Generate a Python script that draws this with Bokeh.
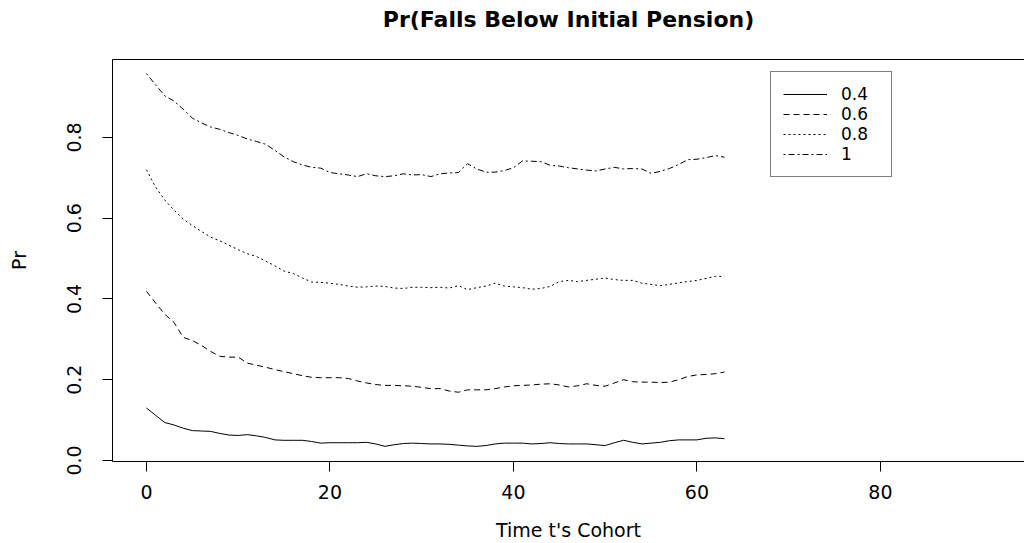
from bokeh.plotting import figure
from bokeh.models import Range1d, FixedTicker, PrintfTickFormatter, LinearAxis, Legend, LegendItem
from bokeh.embed import file_html
from bokeh.resources import INLINE

# Cohort index (time t)
cohort = list(range(64))

# Probability that the pension falls below its initial level, by multiplier
pr_04 = [0.130, 0.112, 0.094, 0.088, 0.080, 0.074, 0.073, 0.072, 0.067, 0.063,
         0.062, 0.064, 0.061, 0.057, 0.051, 0.050, 0.050, 0.050, 0.047, 0.043,
         0.044, 0.044, 0.044, 0.044, 0.045, 0.041, 0.035, 0.039, 0.042, 0.043,
         0.042, 0.041, 0.041, 0.040, 0.038, 0.036, 0.035, 0.037, 0.041, 0.043,
         0.043, 0.043, 0.041, 0.042, 0.044, 0.042, 0.041, 0.041, 0.041, 0.039,
         0.037, 0.044, 0.050, 0.045, 0.041, 0.043, 0.045, 0.049, 0.051, 0.051,
         0.051, 0.055, 0.056, 0.054]
pr_06 = [0.419, 0.390, 0.362, 0.342, 0.305, 0.297, 0.285, 0.270, 0.258, 0.256,
         0.256, 0.241, 0.236, 0.231, 0.225, 0.220, 0.215, 0.210, 0.206, 0.205,
         0.205, 0.205, 0.203, 0.197, 0.192, 0.188, 0.186, 0.186, 0.185, 0.184,
         0.181, 0.178, 0.178, 0.172, 0.169, 0.175, 0.175, 0.175, 0.178, 0.182,
         0.185, 0.186, 0.187, 0.189, 0.190, 0.187, 0.182, 0.185, 0.190, 0.186,
         0.184, 0.192, 0.200, 0.195, 0.194, 0.194, 0.193, 0.194, 0.200, 0.208,
         0.212, 0.213, 0.215, 0.219]
pr_08 = [0.720, 0.677, 0.645, 0.620, 0.598, 0.582, 0.567, 0.553, 0.544, 0.533,
         0.522, 0.512, 0.505, 0.494, 0.482, 0.469, 0.463, 0.452, 0.442, 0.441,
         0.439, 0.436, 0.432, 0.429, 0.430, 0.432, 0.431, 0.427, 0.426, 0.429,
         0.429, 0.428, 0.429, 0.427, 0.433, 0.423, 0.428, 0.432, 0.439, 0.432,
         0.430, 0.428, 0.424, 0.426, 0.431, 0.443, 0.446, 0.443, 0.446, 0.449,
         0.452, 0.448, 0.446, 0.446, 0.439, 0.436, 0.433, 0.436, 0.440, 0.443,
         0.446, 0.451, 0.456, 0.456]
pr_10 = [0.958, 0.930, 0.903, 0.890, 0.870, 0.848, 0.836, 0.826, 0.820, 0.812,
         0.805, 0.796, 0.790, 0.783, 0.768, 0.752, 0.740, 0.732, 0.726, 0.724,
         0.713, 0.710, 0.707, 0.703, 0.710, 0.705, 0.703, 0.705, 0.710, 0.707,
         0.708, 0.703, 0.710, 0.712, 0.713, 0.735, 0.722, 0.714, 0.714, 0.718,
         0.725, 0.742, 0.741, 0.740, 0.731, 0.729, 0.725, 0.722, 0.719, 0.717,
         0.722, 0.726, 0.722, 0.723, 0.722, 0.711, 0.716, 0.723, 0.733, 0.745,
         0.746, 0.750, 0.755, 0.751]

series_labels = ["0.4", "0.6", "0.8", "1"]
x_ticks = [0, 20, 40, 60, 80]
y_ticks = [0.0, 0.2, 0.4, 0.6, 0.8]

FONT = "DejaVu Sans"

p = figure(width=1024, height=543, output_backend="svg", toolbar_location=None,
           x_range=Range1d(-3.7, 95.7), y_range=Range1d(-0.0025, 0.993),
           min_border_left=112, min_border_right=0, min_border_top=59,
           min_border_bottom=82)
p.background_fill_color = "white"
p.border_fill_color = "white"
p.outline_line_color = None
p.xgrid.visible = False
p.ygrid.visible = False

xax = p.below[0]
yax = p.left[0]

p.title.text = "Pr(Falls Below Initial Pension)"
p.title.text_font = FONT
p.title.text_font_style = "bold"
p.title.text_font_size = "22px"
p.title.align = "center"
p.title.text_color = "black"
p.title.standoff = 9

# top border of the box; its blank label band leaves room under the title
top = LinearAxis(major_tick_line_color=None, minor_tick_line_color=None,
                 major_tick_out=0, major_label_text_font_size="0px",
                 axis_line_color="black", ticker=FixedTicker(ticks=[]),
                 axis_label=" ", axis_label_text_font_size="2px",
                 axis_label_standoff=18)
p.add_layout(top, "above")

for ax in (xax, yax):
    ax.axis_line_color = "black"
    ax.major_tick_line_color = "black"
    ax.minor_tick_line_color = None
    ax.major_tick_in = 0
    ax.major_tick_out = 10
    ax.major_label_text_font = FONT
    ax.major_label_text_font_size = "19px"
    ax.major_label_text_color = "black"
    ax.axis_label_text_font = FONT
    ax.axis_label_text_font_size = "19px"
    ax.axis_label_text_font_style = "normal"
    ax.axis_label_text_color = "black"

xax.ticker = FixedTicker(ticks=x_ticks)
xax.axis_label = "Time t's Cohort"
xax.major_label_standoff = 13
xax.axis_label_standoff = 17

yax.ticker = FixedTicker(ticks=y_ticks)
yax.formatter = PrintfTickFormatter(format="%.1f")
yax.major_label_orientation = "vertical"
yax.axis_label = "Pr"
yax.major_label_standoff = 21
yax.axis_label_standoff = 35

styles = [dict(line_dash="solid"),
          dict(line_dash="6 4"),
          dict(line_dash="2 3"),
          dict(line_dash="2 3 6 3")]
renderers = []
for ys, st in zip([pr_04, pr_06, pr_08, pr_10], styles):
    r = p.line(cohort, ys, line_color="black", line_width=1, **st)
    renderers.append(r)

legend = Legend(items=[LegendItem(label=lab, renderers=[r])
                       for lab, r in zip(series_labels, renderers)],
                location=(658, 284))
legend.label_text_font = FONT
legend.label_text_font_size = "17px"
legend.label_text_color = "black"
legend.glyph_width = 44
legend.glyph_height = 20
legend.label_height = 20
legend.label_width = 38
legend.label_standoff = 14
legend.padding = 12
legend.spacing = 0
legend.margin = 0
legend.border_line_color = "black"
legend.border_line_width = 1
legend.background_fill_color = "white"
legend.background_fill_alpha = 1.0
p.add_layout(legend, "center")

open("out.html", "w").write(file_html(p, INLINE))
